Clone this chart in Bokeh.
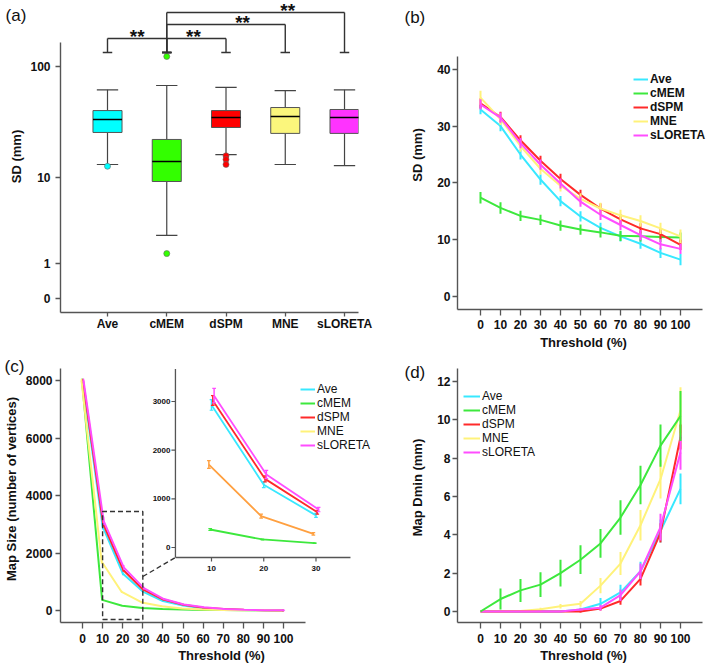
import numpy as np
from bokeh.plotting import figure
from bokeh.models import (Range1d, FixedTicker, Label, Legend, LegendItem,
                          CustomJSTickFormatter)
from bokeh.layouts import column, row
from bokeh.embed import file_html
from bokeh.resources import INLINE
from bokeh.core.properties import value

# ---------------- data ----------------
METHODS = ["Ave", "cMEM", "dSPM", "MNE", "sLORETA"]
THRESHOLDS = [0, 10, 20, 30, 40, 50, 60, 70, 80, 90, 100]

# (a) box plot of SD (mm)
BOX_LOW = [13.3, 2.5, 16.4, 13.3, 13.0]
BOX_Q1 = [26.0, 9.2, 28.8, 25.5, 25.5]
BOX_MED = [33.9, 14.2, 35.3, 36.0, 35.3]
BOX_Q3 = [40.7, 22.5, 40.7, 43.3, 41.6]
BOX_HIGH = [62.0, 67.6, 65.0, 61.0, 62.0]
OUTLIER_METHOD = ["Ave", "cMEM", "cMEM", "dSPM", "dSPM", "dSPM"]
OUTLIER_VALUE = [12.8, 121.0, 1.44, 16.0, 14.8, 13.3]
A_TICK_VALUES = [0, 1, 10, 100]
SIG_PAIRS = [("Ave", "cMEM"), ("cMEM", "dSPM"), ("cMEM", "MNE"), ("cMEM", "sLORETA")]
SIG_TEXT = ["**", "**", "**", "**"]

# (b) SD vs threshold
B_VALUES = {
    "Ave": [32.9, 30.0, 25.0, 20.6, 16.8, 14.1, 12.1, 10.6, 9.3, 7.7, 6.5],
    "cMEM": [17.4, 15.6, 14.2, 13.5, 12.5, 11.8, 11.3, 10.7, 10.6, 10.5, 10.4],
    "dSPM": [34.0, 31.6, 27.5, 23.9, 20.7, 17.9, 15.5, 13.6, 12.0, 11.0, 9.1],
    "MNE": [35.0, 31.2, 26.5, 22.5, 19.5, 17.2, 15.5, 14.3, 13.3, 12.0, 10.6],
    "sLORETA": [33.8, 31.5, 27.0, 23.2, 19.9, 16.7, 14.4, 12.6, 10.8, 9.2, 8.4],
}
B_ERR = {
    "Ave": [0.8, 0.9, 0.9, 0.9, 0.9, 0.9, 0.9, 0.9, 0.9, 0.9, 1.0],
    "cMEM": [1.0, 1.0, 0.9, 0.9, 0.9, 0.9, 0.9, 0.9, 0.9, 0.9, 0.9],
    "dSPM": [0.9, 0.9, 0.9, 0.9, 0.9, 0.9, 0.9, 0.9, 0.9, 0.9, 0.9],
    "MNE": [1.2, 1.0, 1.0, 1.0, 1.0, 1.0, 1.0, 1.0, 1.0, 1.0, 1.2],
    "sLORETA": [0.9, 0.9, 0.9, 0.9, 0.9, 0.9, 0.9, 0.9, 0.9, 0.9, 0.9],
}

# (c) map size vs threshold
C_VALUES = {
    "Ave": [8000, 2930, 1290, 660, 330, 170, 80, 40, 20, 8, 3],
    "cMEM": [8000, 370, 165, 90, 55, 35, 22, 14, 9, 5, 2],
    "dSPM": [8000, 3020, 1410, 725, 380, 200, 100, 50, 25, 10, 4],
    "MNE": [8000, 1705, 645, 280, 150, 70, 35, 18, 9, 5, 2],
    "sLORETA": [8000, 3120, 1500, 780, 400, 210, 110, 55, 28, 12, 5],
}
C_ERR = {
    "Ave": [60, 110, 60, 40, 25, 15, 10, 5, 5, 3, 2],
    "cMEM": [60, 20, 10, 8, 5, 4, 3, 2, 2, 1, 1],
    "dSPM": [60, 100, 60, 40, 25, 15, 10, 5, 5, 3, 2],
    "MNE": [60, 80, 40, 25, 15, 10, 6, 4, 3, 2, 1],
    "sLORETA": [60, 150, 85, 45, 25, 15, 10, 5, 5, 3, 2],
}
INSET_THRESHOLDS = [10, 20, 30]

# (d) map Dmin vs threshold
D_VALUES = {
    "Ave": [0, 0, 0, 0, 0, 0.1, 0.4, 1.0, 2.1, 4.2, 6.4],
    "cMEM": [0, 0.65, 1.1, 1.4, 2.0, 2.7, 3.55, 4.9, 6.6, 8.65, 10.2],
    "dSPM": [0, 0, 0, 0, 0, 0, 0.15, 0.55, 1.7, 4.1, 9.1],
    "MNE": [0, 0, 0.03, 0.12, 0.27, 0.4, 1.35, 2.5, 4.5, 6.9, 10.5],
    "sLORETA": [0, 0, 0, 0, 0, 0.1, 0.2, 0.85, 2.1, 4.4, 8.3],
}
D_ERR = {
    "Ave": [0, 0, 0, 0, 0, 0.1, 0.3, 0.4, 0.5, 0.6, 0.8],
    "cMEM": [0, 0.55, 0.6, 0.65, 0.7, 0.75, 0.75, 0.9, 1.0, 1.1, 1.3],
    "dSPM": [0, 0, 0, 0, 0, 0.05, 0.1, 0.2, 0.35, 0.5, 0.65],
    "MNE": [0, 0, 0.03, 0.08, 0.12, 0.15, 0.4, 0.6, 0.8, 1.0, 1.2],
    "sLORETA": [0, 0, 0, 0, 0, 0.05, 0.15, 0.3, 0.4, 0.7, 0.9],
}

# ---------------- styles ----------------
FONT = "Liberation Sans"
AXIS_COLOR = "#555555"
TEXT_COLOR = "#111111"
BOX_COLORS = ["#00FFFF", "#33FF00", "#FF0000", "#FBF67C", "#FF33FF"]
LINE_COLORS = {"Ave": "#38E8FF", "cMEM": "#3DE83D", "dSPM": "#FF2A2A",
               "MNE": "#FFF27A", "sLORETA": "#FF4DFF"}
INSET_COLORS = dict(LINE_COLORS, MNE="#FFA040")
DODGE = {"Ave": 0.0, "cMEM": -0.25, "dSPM": 0.25, "MNE": -0.5, "sLORETA": 0.5}


def base_fig(width, height, xr, yr, left, bottom, right=0, top=0):
    p = figure(width=width, height=height, x_range=xr, y_range=yr,
               output_backend="svg", toolbar_location=None,
               min_border_left=left, min_border_right=right,
               min_border_top=top, min_border_bottom=bottom)
    try:
        p.frame_align = False
    except Exception:
        pass
    p.outline_line_color = None
    p.grid.visible = False
    for ax in (p.xaxis[0], p.yaxis[0]):
        ax.axis_line_color = AXIS_COLOR
        ax.axis_line_width = 1.4
        ax.major_tick_line_color = AXIS_COLOR
        ax.major_tick_line_width = 1.3
        ax.minor_tick_line_color = None
        ax.major_tick_in = 0
        ax.major_label_text_font = FONT
        ax.major_label_text_font_style = "bold"
        ax.major_label_text_font_size = "12px"
        ax.major_label_text_color = TEXT_COLOR
        ax.axis_label_text_font = FONT
        ax.axis_label_text_font_style = "bold"
        ax.axis_label_text_font_size = "13px"
        ax.axis_label_text_color = TEXT_COLOR
    p.xaxis.major_tick_out = 6
    p.yaxis.major_tick_out = 5
    return p


def panel_label(p, text, x, y, side):
    # placed in a side panel so that it is not clipped to the plot frame
    p.add_layout(Label(x=x, y=y, text=text,
                       text_font=FONT, text_font_size="17px", text_color=TEXT_COLOR,
                       text_align="left", text_baseline="middle"), side)


def make_legend(p, renderers, x, y, style, glyph_width):
    items = [LegendItem(label=m, renderers=[r]) for m, r in zip(METHODS, renderers)]
    lg = Legend(items=items, location=(x, y), orientation="vertical",
                padding=0, margin=0, spacing=0, glyph_width=glyph_width,
                glyph_height=12, label_height=12, label_standoff=2,
                border_line_color=None, background_fill_alpha=0,
                label_text_font=FONT, label_text_font_size="12px",
                label_text_font_style=style, label_text_color=TEXT_COLOR,
                label_text_baseline="middle")
    p.add_layout(lg)


def tr(v):
    return np.log10(np.asarray(v, dtype=float) + 1.0)


# ---------------- (a) ----------------
pa = base_fig(382, 333, Range1d(0.2068, 5.236), Range1d(-0.1207, 2.569), 60, 21, right=24)
xs = np.arange(1, len(METHODS) + 1)
pos = {m: i + 1 for i, m in enumerate(METHODS)}
BOX_W, CAP_W = 0.49, 0.36
WCOL = "#444444"
pa.segment(xs, tr(BOX_LOW), xs, tr(BOX_Q1), line_color=WCOL, line_width=1.2)
pa.segment(xs, tr(BOX_Q3), xs, tr(BOX_HIGH), line_color=WCOL, line_width=1.2)
pa.segment(xs - CAP_W / 2, tr(BOX_LOW), xs + CAP_W / 2, tr(BOX_LOW), line_color=WCOL, line_width=1.2)
pa.segment(xs - CAP_W / 2, tr(BOX_HIGH), xs + CAP_W / 2, tr(BOX_HIGH), line_color=WCOL, line_width=1.2)
pa.vbar(x=xs, width=BOX_W, bottom=tr(BOX_Q1), top=tr(BOX_Q3), fill_color=BOX_COLORS,
        line_color="#555555", line_width=1)
pa.segment(xs - BOX_W / 2, tr(BOX_MED), xs + BOX_W / 2, tr(BOX_MED), line_color="black", line_width=1.5)
pa.scatter([pos[m] for m in OUTLIER_METHOD], tr(OUTLIER_VALUE), size=6,
           fill_color=[BOX_COLORS[pos[m] - 1] for m in OUTLIER_METHOD],
           line_color="#666666", line_width=0.6)

# significance brackets
BASE = 2.121
LEVELS = [2.241, 2.241, 2.362, 2.466]
STAR_X = [1.5, 2.45, 3.28, 4.04]
STAR_OFFSET = 0.017
x0s, y0s, x1s, y1s = [], [], [], []
for (m1, m2), lev in zip(SIG_PAIRS, LEVELS):
    a, b = pos[m1], pos[m2]
    x0s += [a, a, b, a - 0.08, b - 0.08]
    y0s += [lev, BASE, BASE, BASE, BASE]
    x1s += [b, a, b, a + 0.08, b + 0.08]
    y1s += [lev, lev, lev, BASE, BASE]
pa.segment(x0s, y0s, x1s, y1s, line_color="#333333", line_width=1.4)
pa.text(x=STAR_X, y=[l + STAR_OFFSET for l in LEVELS], text=SIG_TEXT, text_font=value(FONT),
        text_font_style="bold", text_font_size="19px", text_color=TEXT_COLOR,
        text_align="center", text_baseline="middle")

pa.xaxis.ticker = FixedTicker(ticks=list(xs))
pa.xaxis.major_label_overrides = {int(i): m for i, m in zip(xs, METHODS)}
pa.xaxis.major_tick_out = 4
pa.xaxis.major_label_standoff = 0
pa.yaxis.ticker = FixedTicker(ticks=list(tr(A_TICK_VALUES)))
pa.yaxis.formatter = CustomJSTickFormatter(code="return Math.round(Math.pow(10, tick) - 1).toFixed(0);")
pa.yaxis.bounds = (-0.1207, 2.207)
pa.yaxis.axis_label = "SD (mm)"
pa.yaxis.major_label_standoff = 5
pa.yaxis.axis_label_standoff = 3
panel_label(pa, "(a)", -0.72, 2.44, "right")

# ---------------- (b) ----------------
pb = base_fig(327, 352, Range1d(-11.5, 114.5), Range1d(-2.265, 52.09), 75, 40)
rb = []
for m in METHODS:
    v = np.array(B_VALUES[m]); e = np.array(B_ERR[m])
    r = pb.line(THRESHOLDS, v, line_color=LINE_COLORS[m], line_width=2)
    pb.segment(THRESHOLDS, v - e, THRESHOLDS, v + e, line_color=LINE_COLORS[m], line_width=2)
    rb.append(r)
pb.xaxis.ticker = FixedTicker(ticks=THRESHOLDS)
pb.xaxis.bounds = (-11.5, 111)
pb.yaxis.ticker = FixedTicker(ticks=[0, 10, 20, 30, 40])
pb.yaxis.bounds = (-2.265, 42.16)
pb.xaxis.axis_label = "Threshold (%)"
pb.yaxis.axis_label = "SD (mm)"
pb.xaxis.major_label_standoff = 4
pb.xaxis.axis_label_standoff = 3
pb.yaxis.major_label_standoff = 2
pb.yaxis.axis_label_standoff = 9
make_legend(pb, rb, 176, 167, "bold", 15)
panel_label(pb, "(b)", -38, 49.13, "left")

# ---------------- (c) ----------------
# frame: top at page y 355, bottom at 622
pc = base_fig(382, 333, Range1d(-10.95, 149.25), Range1d(-417, 8870), 60, 44, top=22)
rc = []
for m in METHODS:
    v = np.array(C_VALUES[m], dtype=float); e = np.array(C_ERR[m], dtype=float)
    x = np.array(THRESHOLDS) + DODGE[m]
    r = pc.line(x, v, line_color=LINE_COLORS[m], line_width=2)
    pc.segment(x, v - e, x, v + e, line_color=LINE_COLORS[m], line_width=1.5)
    rc.append(r)
# zoom box and connector
ZOOM_X = (10, 30)
ZOOM_Y = (-313, 3443)
pc.multi_line([[ZOOM_X[0], ZOOM_X[1], ZOOM_X[1], ZOOM_X[0], ZOOM_X[0]], [30, 46.3]],
              [[ZOOM_Y[0], ZOOM_Y[0], ZOOM_Y[1], ZOOM_Y[1], ZOOM_Y[0]], [1183, 1843]],
              line_color="#333333", line_width=1.4, line_dash="5 3")
# inset
pc.extra_x_ranges = {"ix": Range1d(-18.9, 42.73)}
pc.extra_y_ranges = {"iy": Range1d(-1541, 3945)}
IX = dict(x_range_name="ix", y_range_name="iy")
PXX, PXY = 5.225, 0.04867
IX0, IX1, IY0, IY1 = 3.1, 36.6, -205, 3670
pc.segment([IX0, IX0], [IY0, IY0], [IX0, IX1], [IY1, IY0], line_color=AXIS_COLOR, line_width=1.3, **IX)
iyt = [0, 1000, 2000, 3000]
pc.segment([IX0] * 4, iyt, [IX0 - 4 / PXX] * 4, iyt, line_color=AXIS_COLOR, line_width=1.2, **IX)
pc.text(x=[IX0 - 5 / PXX] * 4, y=iyt, text=[str(t) for t in iyt], text_font=value(FONT),
        text_font_style="bold", text_font_size="8px", text_color=TEXT_COLOR,
        text_align="right", text_baseline="middle", **IX)
pc.segment(INSET_THRESHOLDS, [IY0] * 3, INSET_THRESHOLDS, [IY0 - 4 / PXY] * 3,
           line_color=AXIS_COLOR, line_width=1.2, **IX)
pc.text(x=INSET_THRESHOLDS, y=[IY0 - 11 / PXY] * 3, text=[str(t) for t in INSET_THRESHOLDS],
        text_font=value(FONT), text_font_style="bold", text_font_size="8px", text_color=TEXT_COLOR,
        text_align="center", text_baseline="middle", **IX)
idx = [THRESHOLDS.index(t) for t in INSET_THRESHOLDS]
for m in ["cMEM", "MNE", "Ave", "dSPM", "sLORETA"]:
    v = np.array(C_VALUES[m], dtype=float)[idx]
    e = np.array(C_ERR[m], dtype=float)[idx]
    x = np.array(INSET_THRESHOLDS) + DODGE[m]
    pc.line(x, v, line_color=INSET_COLORS[m], line_width=1.8, **IX)
    pc.segment(x, v - e, x, v + e, line_color=INSET_COLORS[m], line_width=1.5, **IX)
    pc.segment(np.r_[x, x] - 0.35, np.r_[v - e, v + e], np.r_[x, x] + 0.35, np.r_[v - e, v + e],
               line_color=INSET_COLORS[m], line_width=1.2, **IX)

pc.xaxis.ticker = FixedTicker(ticks=THRESHOLDS)
pc.xaxis.bounds = (-10.95, 110.9)
pc.yaxis.ticker = FixedTicker(ticks=[0, 2000, 4000, 6000, 8000])
pc.yaxis.bounds = (-417, 8417)
pc.xaxis.axis_label = "Threshold (%)"
pc.yaxis.axis_label = "Map Size (number of vertices)"
pc.xaxis.major_label_standoff = 5
pc.xaxis.axis_label_standoff = 2
pc.yaxis.major_label_standoff = 3
pc.yaxis.axis_label_standoff = 4
make_legend(pc, rc, 240, 170, "normal", 15)
panel_label(pc, "(c)", -38.8, 8487, "above")

# ---------------- (d) ----------------
pd_ = base_fig(327, 314, Range1d(-11.5, 114.5), Range1d(-0.574, 13.51), 75, 44)
rd = {}
for m in ["Ave", "MNE", "dSPM", "sLORETA", "cMEM"]:
    v = np.array(D_VALUES[m]); e = np.array(D_ERR[m])
    r = pd_.line(THRESHOLDS, v, line_color=LINE_COLORS[m], line_width=2)
    pd_.segment(THRESHOLDS, v - e, THRESHOLDS, v + e, line_color=LINE_COLORS[m], line_width=2)
    rd[m] = r
pd_.xaxis.ticker = FixedTicker(ticks=THRESHOLDS)
pd_.xaxis.bounds = (-11.5, 111)
pd_.yaxis.ticker = FixedTicker(ticks=[0, 2, 4, 6, 8, 10, 12])
pd_.yaxis.bounds = (-0.574, 12.68)
pd_.xaxis.axis_label = "Threshold (%)"
pd_.yaxis.axis_label = "Map Dmin (mm)"
pd_.xaxis.major_label_standoff = 5
pd_.xaxis.axis_label_standoff = 2
pd_.yaxis.major_label_standoff = 2
pd_.yaxis.axis_label_standoff = 9
make_legend(pd_, [rd[m] for m in METHODS], 6, 163, "normal", 17)
panel_label(pd_, "(d)", -38, 12.47, "left")

layout = row(column(pa, pc), column(pb, pd_))
open("out.html", "w").write(file_html(layout, INLINE))
